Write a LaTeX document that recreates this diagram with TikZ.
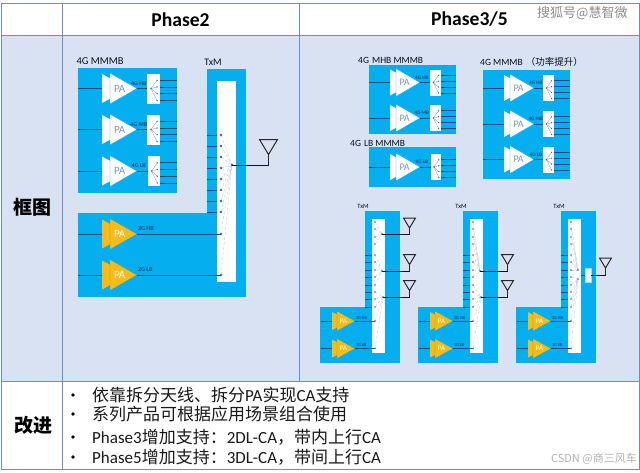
\documentclass[tikz,border=0pt]{standalone}
\usepackage{fontspec}
\setmainfont{Carlito}
\newfontfamily\cjk{Noto Sans CJK SC}
\usetikzlibrary{calc}
\definecolor{rowblue}{HTML}{D9E2F3}
\definecolor{rule}{HTML}{6C8EC6}
\definecolor{modblue}{HTML}{05AEEE}
\definecolor{wire}{HTML}{124F7E}
\definecolor{paamber}{HTML}{FBBB14}
\definecolor{dotc}{HTML}{4A5A9E}
\definecolor{patext}{HTML}{7F95B5}
\definecolor{fan}{HTML}{B4C2DE}
\newcommand{\cj}[1]{{\cjk #1}}
\tikzset{
  x=1pt,y=-1pt,
  modbox/.style={fill=modblue,draw=none},
  wireln/.style={draw=wire,line width=1pt},
  fanln/.style={draw=fan,line width=.3pt,densely dashed},
  swfan/.style={draw=fan!80!black,line width=.35pt},
  anten/.style={draw=black!85,line width=1pt,fill=none,line join=miter},
  antwire/.style={draw=black!75!wire,line width=.9pt},
  tabline/.style={draw=rule,line width=1pt},
  lab/.style={inner sep=0pt,font=\fontsize{#1}{#1}\selectfont,text=black!80!wire},
  mini/.style={inner sep=0pt,font=\fontsize{#1}{#1}\selectfont\bfseries,text=wire},
  bullettext/.style={inner sep=0pt,anchor=west,font=\fontsize{17}{17}\selectfont,text=black!90},
  wmark/.style={inner sep=0pt,font=\fontsize{13}{13}\cjk,text=black!45},
}
% #1 name, #2 back x, #3 front x, #4 apex x, #5 y, #6 half height, #7 colour, #8 text colour, #9 text size
\newcommand{\PAshape}[9]{%
  \fill[#7] (#2,#5-#6+1) -- (#4-#3+#2,#5) -- (#2,#5+#6-1) -- cycle;
  \path[fill=#7,draw=modblue,line width=.4pt] (#3,#5-#6) -- (#4,#5) -- (#3,#5+#6) -- cycle;
  \node[inner sep=0pt,text=#8,font=\fontsize{#9}{#9}\selectfont] (#1) at ({#3+(#4-#3)*.36},#5) {PA};
}
% #1 name, #2 x left, #3 x right, #4 y, #5 half height, #6 output x, #7 unit
\newcommand{\SWbox}[7]{%
  \fill[white] (#2,#4-#5) rectangle (#3,#4+#5);
  \coordinate (#1hub) at ({#2+(#3-#2)*.3},#4);
  \foreach \k/\oo in {a/-.55,b/-.1,c/.35,d/.8}{
    \coordinate (#1\k) at ({#2+(#3-#2)*.78},{#4+\oo*#5});
    \draw[swfan] (#1hub) -- (#1\k);
    \fill[dotc] (#1\k) circle (.7);
    \coordinate (#1\k o) at (#6,{#4+\oo*#5});
    \draw[wireln,line width=#7] (#3,{#4+\oo*#5}) -- (#1\k o);
  }
  \fill[dotc] (#1hub) circle (.8);
}
% full 4G unit
\newcommand{\Unit}[9]{%
  \coordinate (#1in) at (#2,#8);
  \coordinate (#1pa) at (#3,#8);
  \coordinate (#1out) at (#5,#8);
  \coordinate (#1sw) at (#6,#8);
  \draw[wireln,line width=\wl] (#1in) -- (#1pa);
  \draw[wireln,line width=\wl] (#1out) -- (#1sw);
  \PAshape{#1t}{#3}{#4}{#5}{#8}{\hh}{white}{patext}{\pasz}
  \SWbox{#1s}{#6}{#7}{#8}{\ohh}{\redge}{\wl}
  \node[mini=\minisz] (#1l) at (#5+1.8,{#8-\hh*.35}) {#9};
}
% 2G unit
\newcommand{\GTwo}[8]{%
  \coordinate (#1in) at (#2,#6);
  \coordinate (#1pa) at (#3,#6);
  \coordinate (#1out) at (#5,#6);
  \coordinate (#1dot) at (#7,#6);
  \draw[wireln,line width=\wl] (#1in) -- (#1pa);
  \draw[wireln,line width=\wl] (#1out) -- (#1dot);
  \PAshape{#1t}{#3}{#4}{#5}{#6}{\hh}{paamber}{white}{\pasz}
  \node[mini=\minisz,anchor=west] (#1l) at (#5+.8,{#6-\hh*.33}) {#8};
}
% antenna
\newcommand{\Ant}[6]{%
  \draw[anten] (#2,#4) -- (#3,#4) -- ({(#2+#3)/2},#5) -- cycle;
  \coordinate (#1) at ({(#2+#3)/2},#6);
  \draw[anten,line width=.9pt] ({(#2+#3)/2},#5) -- (#1);
}
% small TxM: #1 prefix, #2 dx
\newcommand{\SmallTxM}[2]{%
  \begin{scope}[xshift=#2pt]
  \fill[modbox] (365,211) rectangle (400,363);
  \fill[modbox] (320,307) rectangle (400,363);
  \fill[white] (372,219) rectangle (385,353);
  \foreach \yy in {255,262,270,277,285,292,299,307}{
    \coordinate (#1L\yy) at (365,\yy);
    \coordinate (#1D\yy) at (375,\yy);
    \draw[wireln,line width=.8pt] (#1L\yy) -- (372,\yy);
  }
  \def\hh{10}\def\wl{.8pt}\def\pasz{7}\def\minisz{4.3}
  \GTwo{#1a}{320.5}{332}{337}{355}{321}{375}{2G HB}
  \GTwo{#1b}{320.5}{332}{337}{355}{348.5}{375}{2G LB}
  \end{scope}
}
\newcommand{\TxMlabel}[3]{\node[lab=#3] (#1) at #2 {TxM};}
\begin{document}
\begin{tikzpicture}
\useasboundingbox (0,0) rectangle (640,472);
\fill[white] (0,0) rectangle (640,472);
\fill[rowblue] (1,35) rectangle (639,381);
% table
\draw[tabline] (1,3) rectangle (639,469);
\draw[tabline] (1,35) -- (639,35);
\draw[tabline] (1,381) -- (639,381);
\draw[tabline] (62,3) -- (62,469);
\draw[tabline] (299.5,3) -- (299.5,381);
\node[inner sep=0pt,font=\fontsize{19.6}{19.6}\selectfont\bfseries] (h2) at (180.5,19.5) {Phase2};
\node[inner sep=0pt,font=\fontsize{19.6}{19.6}\selectfont\bfseries] (h3) at (469.5,19.5) {Phase3/5};
\node[inner sep=0pt,font=\fontsize{19}{19}\cjk\bfseries] (r1) at (32,207) {框图};
\node[inner sep=0pt,font=\fontsize{19}{19}\cjk\bfseries] (r2) at (33,425) {改进};
% bullets
\foreach \yy in {395,414,437,457}{\fill (73,\yy) circle (1.9);}
\node[bullettext] (ta) at (92,395) {\cj{依靠拆分天线、拆分}PA\cj{实现}CA\cj{支持}};
\node[bullettext] (tb) at (92,414) {\cj{系列产品可根据应用场景组合使用}};
\node[bullettext] (tc) at (92,437) {Phase3\cj{增加支持：}2DL-CA\cj{，带内上行}CA};
\node[bullettext] (td) at (92,457) {Phase5\cj{增加支持：}3DL-CA\cj{，带间上行}CA};
% ---------- Phase 2 ----------
\node[lab=10.5] (l4g) at (100,61) {4G MMMB};
\TxMlabel{tx0}{(213,62)}{10}
\fill[modbox] (78,68) rectangle (177,193);
\def\hh{15.5}\def\ohh{15}\def\wl{1pt}\def\pasz{11}\def\minisz{6}\def\redge{177}
\Unit{p1}{78}{102}{110}{137}{147}{160}{88.5}{4G HB}
\Unit{p2}{78}{102}{110}{137}{147}{160}{129.5}{4G MB}
\Unit{p3}{78}{102}{110}{137}{148}{160}{171}{4G LB}
\fill[modbox] (207,69) rectangle (246,297);
\fill[modbox] (78,213) rectangle (246,297);
\fill[white] (217,81) rectangle (236,282);
\coordinate (hub) at (232,165);
\foreach \yy in {135,146,157,168,179,190,201,212}{
  \coordinate (L\yy) at (207,\yy);
  \coordinate (D\yy) at (221,\yy);
  \draw[wireln] (L\yy) -- (217,\yy);
}
\def\hh{15.5}\def\pasz{11}\def\minisz{6.2}
\GTwo{g1}{78}{102}{110}{137}{234}{221}{2G HB}
\GTwo{g2}{78}{102}{110}{137}{275}{221}{2G LB}
\foreach \yy in {135,146,157,168,179,190,201,212}{
  \draw[fanln] (D\yy) -- (hub);
  \fill[dotc] (D\yy) circle (1.4);
}
\draw[fanln] (g1dot) -- (hub);
\draw[fanln] (g2dot) -- (hub);
\fill[dotc] (g1dot) circle (1.4);
\fill[dotc] (g2dot) circle (1.4);
\fill[dotc] (hub) circle (1.4);
\Ant{a0}{259.5}{277.5}{139.5}{154.5}{165}
\draw[antwire] (hub) -| (a0);
% ---------- Phase 3/5 4G ----------
\node[lab=9.5,anchor=west] (lmhb) at (358,60) {4G\,\,MHB MMMB};
\node[lab=9.5,anchor=west] (llb) at (350,143.5) {4G\,\,LB MMMB};
\node[lab=9.5,anchor=west] (lpw) at (480,62) {4G MMMB\,\,{\cjk （功率提升）}};
\fill[modbox] (369,65) rectangle (456,134);
\fill[modbox] (369,147) rectangle (456,187);
\fill[modbox] (483,70) rectangle (570,179);
\def\hh{14}\def\ohh{13}\def\wl{.8pt}\def\pasz{10}\def\minisz{5.2}\def\redge{456}
\Unit{m1}{369}{390}{396}{420}{430}{441}{82.5}{4G HB}
\Unit{m2}{369}{390}{396}{420}{430}{441}{118}{4G MB}
\Unit{m3}{369}{390}{396}{420}{431}{441}{167}{4G LB}
\def\redge{570}
\Unit{n1}{483}{504}{510}{534}{543}{554}{88}{4G HB}
\Unit{n2}{483}{504}{510}{534}{543}{554}{124}{4G MB}
\Unit{n3}{483}{504}{510}{534}{543}{554}{159.5}{4G LB}
% ---------- TxM A ----------
\TxMlabel{txa}{(363,206)}{6.5}
\SmallTxM{A}{0}
\foreach \yy in {222,229,237,244}{\fill[dotc] (375,\yy) circle (.8);}
\coordinate (Ah1) at (382,234);
\coordinate (Ah2) at (382,271);
\coordinate (Ah3) at (383,297);
\foreach \yy in {222,229,237,244}{\draw[fanln] (375,\yy) -- (Ah1);}
\foreach \yy in {255,262,270,277,285}{\draw[fanln] (AD\yy) -- (Ah2);}
\foreach \yy in {292,299,307}{\draw[fanln] (AD\yy) -- (Ah3);}
\draw[fanln] (Aadot) -- (Ah3);
\draw[fanln] (Abdot) -- (Ah3);
\foreach \yy in {255,262,270,277,285,292,299,307}{\fill[dotc] (AD\yy) circle (.8);}
\fill[dotc] (Aadot) circle (.8); \fill[dotc] (Abdot) circle (.8);
\foreach \h in {Ah1,Ah2,Ah3}{\fill[dotc] (\h) circle (.9);}
\Ant{aa1}{403.5}{415.5}{218}{228}{234}
\Ant{aa2}{403.5}{415.5}{254.5}{264.5}{271}
\Ant{aa3}{403.5}{415.5}{280.5}{290.5}{297}
\draw[antwire] (Ah1) -- (aa1);
\draw[antwire] (Ah2) -- (aa2);
\draw[antwire] (Ah3) -- (aa3);
% ---------- TxM B ----------
\TxMlabel{txb}{(461,206)}{6.5}
\SmallTxM{B}{98}
\foreach \yy in {222,229,237,244}{\fill[dotc] (473,\yy) circle (.8);}
\coordinate (Bh2) at (480,271);
\coordinate (Bh3) at (481,297);
\foreach \yy in {222,229,237,244}{\draw[fanln] (473,\yy) -- (Bh2);}
\foreach \yy in {255,262,270,277}{\draw[fanln] (BD\yy) -- (Bh2);}
\foreach \yy in {285,292,299,307}{\draw[fanln] (BD\yy) -- (Bh3);}
\draw[fanln] (Badot) -- (Bh3);
\draw[fanln] (Bbdot) -- (Bh3);
\foreach \yy in {255,262,270,277,285,292,299,307}{\fill[dotc] (BD\yy) circle (.8);}
\fill[dotc] (Badot) circle (.8); \fill[dotc] (Bbdot) circle (.8);
\foreach \h in {Bh2,Bh3}{\fill[dotc] (\h) circle (.9);}
\Ant{ab2}{501.5}{513.5}{254.5}{264.5}{271}
\Ant{ab3}{501.5}{513.5}{280.5}{290.5}{297}
\draw[antwire] (Bh2) -- (ab2);
\draw[antwire] (Bh3) -- (ab3);
% ---------- TxM C ----------
\TxMlabel{txc}{(559,206)}{6.5}
\SmallTxM{C}{196}
\foreach \yy in {222,229,237,244}{\fill[dotc] (571,\yy) circle (.8);}
\coordinate (Ch1) at (578,270);
\coordinate (Ch2) at (578,279);
\foreach \yy in {222,229,237,244}{\draw[fanln] (571,\yy) -- (Ch1);}
\foreach \yy in {255,262,270}{\draw[fanln] (CD\yy) -- (Ch1);}
\foreach \yy in {277,285,292,299,307}{\draw[fanln] (CD\yy) -- (Ch2);}
\draw[fanln] (Cadot) -- (Ch2);
\draw[fanln] (Cbdot) -- (Ch2);
\foreach \yy in {255,262,270,277,285,292,299,307}{\fill[dotc] (CD\yy) circle (.8);}
\fill[dotc] (Cadot) circle (.8); \fill[dotc] (Cbdot) circle (.8);
\fill[dotc] (Ch1) circle (.9); \fill[dotc] (Ch2) circle (.9);
\node[fill=white,draw=modblue!40,line width=.3pt,minimum width=6pt,minimum height=14pt,inner sep=0pt] (csw) at (588,275) {};
\coordinate (Cw) at (581,275);
\draw[wireln,line width=.8pt] (Cw) -- (csw.west);
\Ant{ac}{599.5}{611.5}{258}{268}{275}
\draw[antwire] (csw.east) -- (ac);
% watermarks
\node[wmark,anchor=west] (wm1) at (537,13) {搜狐号@慧智微};
\node[inner sep=0pt,anchor=east,font=\fontsize{11}{11}\cjk,text=black!30] (wm2) at (637,459) {CSDN @商三风车};
\end{tikzpicture}
\end{document}
